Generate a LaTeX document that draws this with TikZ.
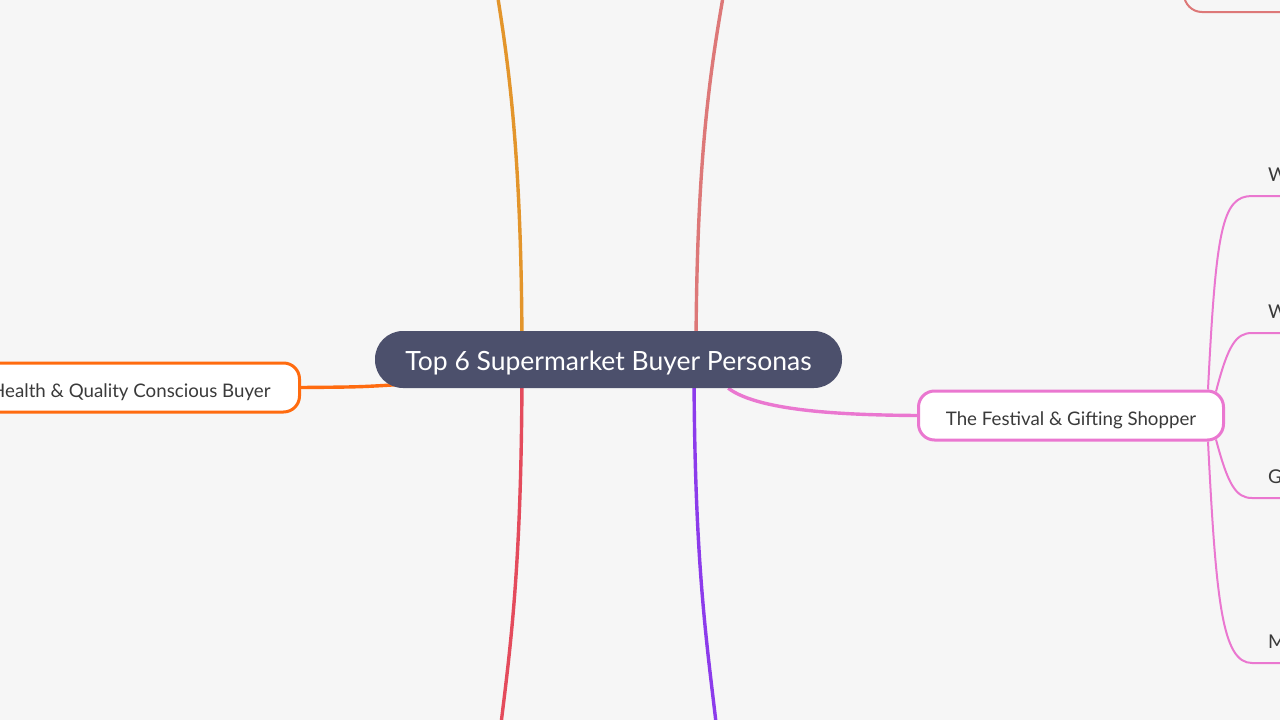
\documentclass[tikz,border=0pt]{standalone}
\usepackage{fontspec}
\setmainfont{Lato}
\usepackage{tikz}
\usetikzlibrary{backgrounds}

\definecolor{bgcol}{HTML}{F6F6F6}
\definecolor{rootcol}{HTML}{4C506C}
\definecolor{txtcol}{HTML}{3A3A3A}
\definecolor{brorange}{HTML}{E3952B}
\definecolor{brrose}{HTML}{DD7878}
\definecolor{brred}{HTML}{E44B5C}
\definecolor{brpurple}{HTML}{8C3BEB}
\definecolor{brleft}{HTML}{FF6B0F}
\definecolor{brpink}{HTML}{EA77D0}

\tikzset{
  rootbox/.style={fill=rootcol, text=white, rounded corners=28pt, minimum width=467pt, minimum height=57pt, text height=22pt, text depth=0pt, font=\fontsize{26.5}{30}\selectfont},
  personabox/.style={draw, fill=white, line width=3pt, rounded corners=16pt, minimum height=49pt, inner xsep=26pt, text height=19pt, text depth=0pt, text=txtcol, font=\fontsize{18.7}{23}\selectfont},
  leafbox/.style={anchor=south west, inner xsep=16pt, inner ysep=14pt, text depth=0pt, text width=60pt, align=left, text=txtcol, font=\fontsize{19}{23}\selectfont},
  branch/.style={line width=3.4pt},
  twig/.style={line width=2pt, brpink}
}

\begin{document}
\begin{tikzpicture}[x=1pt, y=-1pt]
    % Canvas
    \useasboundingbox (0,0) rectangle (1280,720);
    \clip (0,0) rectangle (1280,720);

    % Root and persona nodes
    \node[rootbox] (root) at (608.5,359.5) {Top 6 Supermarket Buyer Personas};
    \node[personabox, draw=brleft, anchor=east, inner xsep=29pt] (health) at (301,387.5) {Health \& Quality Conscious Buyer};
    \node[personabox, draw=brpink, minimum width=305pt] (festival) at (1071,415.5) {The Festival \& Gifting Shopper};
    \node[draw=brrose, line width=2pt, rounded corners=18pt, minimum width=140pt, minimum height=80pt, anchor=south west] (topbox) at (1183,13) {};

    % Free ends of the branches that leave the picture
    \coordinate (upleft) at (495,-20);
    \coordinate (upright) at (726,-20);
    \coordinate (downleft) at (499,740);
    \coordinate (downright) at (718,740);

    \begin{scope}[on background layer]
        \fill[bgcol] (0,0) rectangle (1280,720);
        % Branches to the personas outside the picture
        \draw[branch, brorange] (522,360) .. controls (522,150) and (508,60) .. (upleft);
        \draw[branch, brrose] (696,360) .. controls (696,150) and (712,60) .. (upright);
        \draw[branch, brred] (522,360) .. controls (522,570) and (510,650) .. (downleft);
        \draw[branch, brpurple] (694,360) .. controls (694,570) and (708,650) .. (downright);
        % Connectors from the root
        \draw[branch, brleft] ([xshift=30pt,yshift=4pt]root.south west) .. controls (360,387) .. (health.east);
        \draw[branch, brpink] ([xshift=-114pt]root.south east) .. controls (760,412) and (850,415) .. (festival.west);
    \end{scope}

    % Leaves of the festival shopper
    \node[leafbox] (leafa) at (1252,196) {W};
    \node[leafbox] (leafb) at (1252,333) {W};
    \node[leafbox] (leafc) at (1252,498) {G};
    \node[leafbox] (leafd) at (1252,663) {M};

    \draw[twig] ([xshift=-17pt]festival.north east) .. controls (1216,230) and (1222,196) .. (leafa.south west) -- (leafa.south east);
    \draw[twig] ([xshift=-9pt,yshift=-2pt]festival.north east) .. controls (1228,345) and (1236,333) .. (leafb.south west) -- (leafb.south east);
    \draw[twig] ([xshift=-9pt,yshift=2pt]festival.south east) .. controls (1228,485) and (1236,498) .. (leafc.south west) -- (leafc.south east);
    \draw[twig] ([xshift=-17pt]festival.south east) .. controls (1216,600) and (1222,663) .. (leafd.south west) -- (leafd.south east);
\end{tikzpicture}
\end{document}
